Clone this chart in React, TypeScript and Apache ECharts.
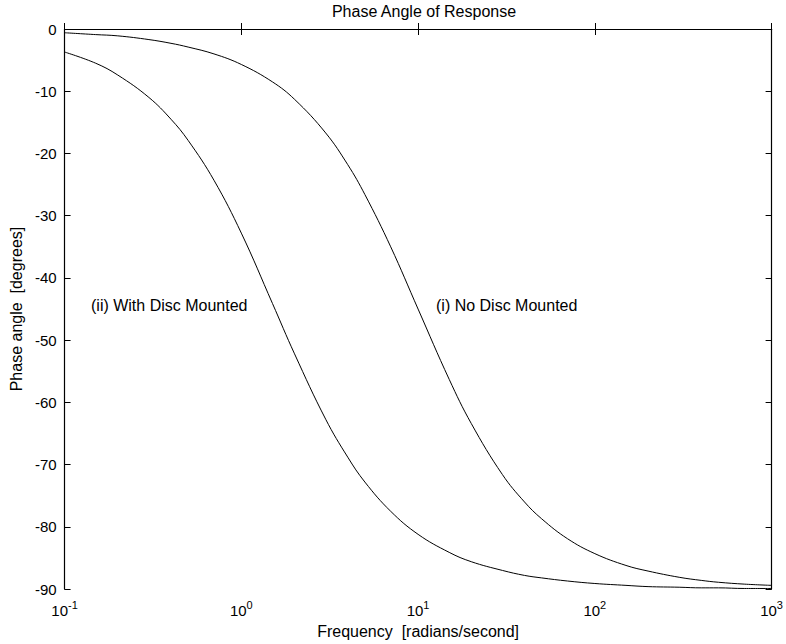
import React, { useEffect, useRef } from "react";
import * as echarts from "echarts";

const frequencies = [0.1, 0.15, 0.2, 0.3, 0.4, 0.5, 0.7, 1, 1.5, 2, 3, 4, 5, 7, 10, 15, 20, 30, 40, 50, 70, 100, 150, 200, 300, 400, 500, 700, 1000];
const noDisc = [-0.6, -0.9, -1.1, -1.7, -2.3, -2.9, -4.0, -5.7, -8.5, -11.3, -16.7, -21.8, -26.6, -35.0, -45.0, -56.3, -63.4, -71.6, -76.0, -78.7, -81.9, -84.3, -86.2, -87.1, -88.1, -88.6, -88.9, -89.2, -89.4];
const withDisc = [-3.7, -5.5, -7.4, -11.0, -14.5, -17.9, -24.3, -32.8, -44.1, -52.2, -62.7, -68.8, -72.8, -77.5, -81.2, -84.1, -85.6, -87.0, -87.8, -88.2, -88.7, -89.1, -89.4, -89.6, -89.7, -89.8, -89.8, -89.9, -89.9];
const annotations = [
  { text: "(ii) With Disc Mounted", x: 91, y: 305 },
  { text: "(i) No Disc Mounted", x: 436, y: 305 },
];

const FONT = "Liberation Sans, Arial, Helvetica, sans-serif";
const TXT = 16;
const TICK = 15;

export default function App() {
  const ref = useRef<HTMLDivElement>(null);
  useEffect(() => {
    if (!ref.current) return;
    const chart = echarts.init(ref.current, undefined, { renderer: "svg" });
    const axisLine = { show: true, lineStyle: { color: "#000", width: 1.2 } };
    const tick = { show: true, inside: true, length: 6, lineStyle: { color: "#000", width: 1 } };
    chart.setOption({
      animation: false,
      backgroundColor: "#fff",
      textStyle: { fontFamily: FONT, color: "#000" },
      title: {
        text: "Phase Angle of Response",
        left: 419,
        textAlign: "center",
        top: -2,
        textStyle: { fontFamily: FONT, fontSize: TXT, fontWeight: "normal", color: "#000" },
      },
      grid: { left: 62, right: 10, top: 29, bottom: 52, containLabel: false },
      xAxis: [
        {
          type: "log",
          logBase: 10,
          min: 0.1,
          max: 1000,
          position: "bottom",
          axisLine,
          axisTick: tick,
          splitLine: { show: false },
          minorTick: { show: false },
          name: "Frequency  [radians/second]",
          nameLocation: "middle",
          nameGap: 27,
          nameTextStyle: { fontFamily: FONT, fontSize: TXT, color: "#000" },
          axisLabel: {
            margin: 6,
            color: "#000",
            fontFamily: FONT,
            formatter: (v: number) => {
              const e = Math.round(Math.log10(v));
              return `{b|10}{s|${e}}`;
            },
            rich: {
              b: { fontSize: TICK, fontFamily: FONT, color: "#000", padding: [8, 0, 0, 0] },
              s: { fontSize: 11, fontFamily: FONT, color: "#000", padding: [0, 0, 4, 0] },
            },
          },
        },
        {
          type: "log",
          logBase: 10,
          min: 0.1,
          max: 1000,
          position: "top",
          axisLine,
          axisTick: tick,
          axisLabel: { show: false },
          splitLine: { show: false },
        },
      ],
      yAxis: [
        {
          type: "value",
          min: -90,
          max: 0,
          interval: 10,
          position: "left",
          axisLine,
          axisTick: tick,
          splitLine: { show: false },
          axisLabel: { margin: 8, fontSize: TICK, color: "#000", fontFamily: FONT },
          name: "Phase angle  [degrees]",
          nameLocation: "middle",
          nameGap: 37,
          nameRotate: 90,
          nameTextStyle: { fontFamily: FONT, fontSize: TXT, color: "#000" },
        },
        {
          type: "value",
          min: -90,
          max: 0,
          interval: 10,
          position: "right",
          axisLine,
          axisTick: tick,
          axisLabel: { show: false },
          splitLine: { show: false },
        },
      ],
      series: [
        {
          name: "(i) No Disc Mounted",
          type: "line",
          data: frequencies.map((f, i) => [f, noDisc[i]]),
          smooth: 0.4,
          showSymbol: false,
          lineStyle: { color: "#000", width: 1 },
          z: 3,
        },
        {
          name: "(ii) With Disc Mounted",
          type: "line",
          data: frequencies.map((f, i) => [f, withDisc[i]]),
          smooth: 0.4,
          showSymbol: false,
          lineStyle: { color: "#000", width: 1 },
          z: 3,
        },
      ],
      graphic: annotations.map((a) => ({
        type: "text",
        left: a.x,
        top: a.y - TXT / 2,
        style: { text: a.text, fontFamily: FONT, fontSize: TXT, fill: "#000" },
      })),
    });
    return () => chart.dispose();
  }, []);
  return <div ref={ref} style={{ width: 786, height: 644, position: "absolute", left: 0, top: 0 }} />;
}
